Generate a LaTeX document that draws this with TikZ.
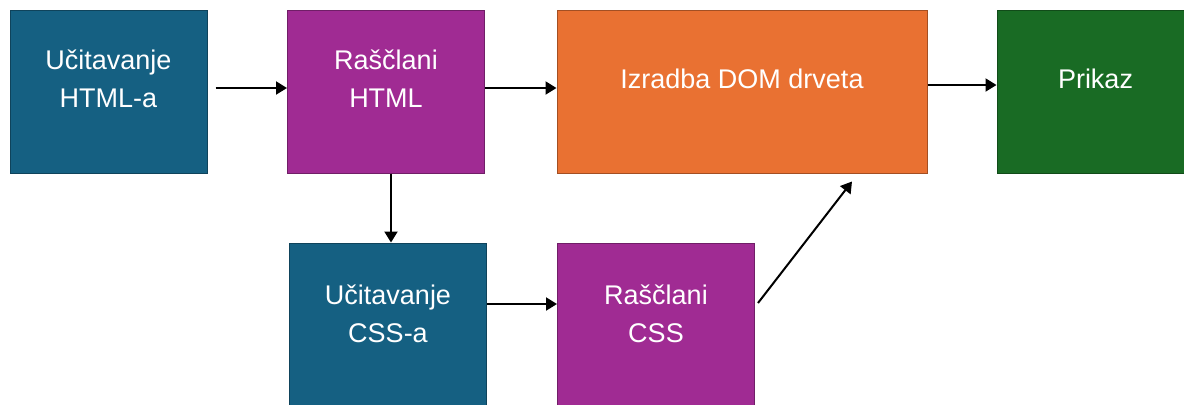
\documentclass[tikz,border=0pt]{standalone}
\usepackage{fontspec}
\setmainfont{Liberation Sans}
\usetikzlibrary{arrows.meta, positioning, calc}
\definecolor{stepblue}{HTML}{156082}
\definecolor{steppurple}{HTML}{A02B93}
\definecolor{steporange}{HTML}{E97132}
\definecolor{stepgreen}{HTML}{196B24}
\tikzset{
    stage/.style={
        draw=#1!70!black, fill=#1, line width=0.5pt,
        minimum width=98.5pt, minimum height=81.5pt,
        text=white, align=center, inner sep=0pt,
        font=\fontsize{13.5}{19}\selectfont, text depth=12.5pt
    },
    flow/.style={
        -{Triangle[length=5.5pt,width=6.5pt]}, line width=1pt, black
    }
}
\begin{document}
\begin{tikzpicture}
    \useasboundingbox (0,0) rectangle (592pt,-202pt);
    % top row
    \node[stage=stepblue]   (loadhtml)  at (54.25pt,-45.75pt)  {Učitavanje\\HTML-a};
    \node[stage=steppurple] (parsehtml) at (193pt,-45.75pt)    {Raščlani\\HTML};
    \node[stage=steporange, minimum width=185pt] (domtree) at (371pt,-45.75pt) {Izradba DOM drveta};
    \node[stage=stepgreen]  (render)    at (547.75pt,-45.75pt) {Prikaz};
    % bottom row
    \node[stage=stepblue, minimum height=83pt]   (loadcss)   at (194pt,-163pt) {Učitavanje\\CSS-a};
    \node[stage=steppurple, minimum height=83pt] (parsecss)  at (328pt,-163pt) {Raščlani\\CSS};
    \coordinate (domin) at ([xshift=55pt,yshift=-4pt]domtree.south);
    % connectors
    \draw[flow] ([xshift=4pt,yshift=1.75pt]loadhtml.east) -- ([yshift=1.75pt]parsehtml.west);
    \draw[flow] ([yshift=1.75pt]parsehtml.east) -- ([yshift=1.75pt]domtree.west);
    \draw[flow] ([yshift=3.25pt]domtree.east) -- ([yshift=3.25pt]render.west);
    \draw[flow] ([xshift=2.5pt]parsehtml.south) -- ([xshift=2.5pt]parsehtml.south |- loadcss.north);
    \draw[flow] ([yshift=11pt]loadcss.east) -- ([yshift=11pt]parsecss.west);
    \draw[flow] ([xshift=1.5pt,yshift=11.5pt]parsecss.east) -- (domin);
\end{tikzpicture}
\end{document}
